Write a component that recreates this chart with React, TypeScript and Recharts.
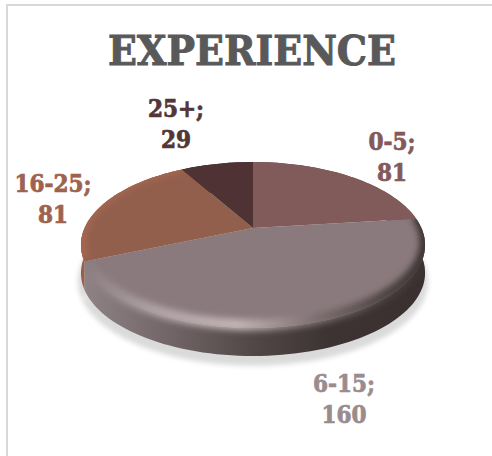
import { PieChart, Pie } from "recharts";

const categories = ["0-5", "6-15", "16-25", "25+"];
const counts = [81, 160, 81, 29];
const faceColors = ["#815B5A", "#8A7A7D", "#925F4D", "#4F3334"];
const wallFills = ["#5e4241", "url(#wallGrad)", "#9a5f4a", "#3a2627"];
const bevelStrokes = ["none", "url(#bevelGrad)", "#a5664f", "none"];
const labelColors = ["#84595A", "#9A8C8E", "#9E624E", "#523638"];

const data = categories.map((name, i) => ({ name, value: counts[i] }));

const WIDTH = 492;
const HEIGHT = 456;
const CX = 253;
const CY = 228;
const RADIUS = 168.4;
// Tilt of the disc: foreshortening plus a small perspective term
const SQUASH = 0.472;
const PERSPECTIVE = -0.205;
const DEPTH = 28;
const SHADOW_DROP = 36;
const FONT = "'DejaVu Serif', serif";
const LABEL_FONT = "'DejaVu Serif Condensed', 'DejaVu Serif', serif";

const LABEL_SPOTS = [
  { x: 392, y: 150 },
  { x: 344, y: 392 },
  { x: 53, y: 192 },
  { x: 176, y: 117 },
];

type SliceProps = {
  cx: number;
  cy: number;
  outerRadius: number;
  startAngle: number;
  endAngle: number;
  index: number;
};

function rimPoint(deg: number, cx: number, cy: number, r: number): [number, number] {
  const rad = (deg * Math.PI) / 180;
  const u = Math.cos(rad);
  const v = -Math.sin(rad);
  const d = 1 + PERSPECTIVE * v;
  return [cx + (r * u) / d, cy + (SQUASH * r * v) / d];
}

function rim(p: SliceProps, grow = 0): [number, number][] {
  const steps = Math.max(2, Math.ceil(Math.abs(p.endAngle - p.startAngle) / 2));
  const pts: [number, number][] = [];
  for (let i = 0; i <= steps; i++) {
    const deg = p.startAngle + ((p.endAngle - p.startAngle) * i) / steps;
    pts.push(rimPoint(deg, p.cx, p.cy, p.outerRadius + grow));
  }
  return pts;
}

const toPath = (pts: [number, number][]) =>
  pts.map(([x, y], i) => `${i ? "L" : "M"}${x.toFixed(2)} ${y.toFixed(2)}`).join(" ");

const wallPath = (pts: [number, number][]) => {
  const lower = pts.map(([x, y]): [number, number] => [x, y + DEPTH]).reverse();
  return `${toPath([...pts, ...lower])} Z`;
};

function ShadowSlice(p: SliceProps) {
  const pts = rim(p, 3).map(([x, y]): [number, number] => [x, y + SHADOW_DROP]);
  return <path d={`${toPath([[p.cx, p.cy + SHADOW_DROP], ...pts])} Z`} fill="#dadada" filter="url(#shadowBlur)" />;
}

function WallSlice(p: SliceProps) {
  return <path d={wallPath(rim(p))} fill={wallFills[p.index]} />;
}

function FaceSlice(p: SliceProps) {
  const pts = rim(p);
  const d = `${toPath([[p.cx, p.cy], ...pts])} Z`;
  const clipId = `face-${p.index}`;
  // The bevel highlight sits just inside the rim and bleeds softly onto the wall
  const bevelLine = pts.map(([x, y]): [number, number] => [x, y - 3]);
  return (
    <g>
      <clipPath id={clipId}>
        <path d={d} />
        <path d={wallPath(pts)} />
      </clipPath>
      <path d={d} fill={faceColors[p.index]} />
      {bevelStrokes[p.index] !== "none" && (
        <g clipPath={`url(#${clipId})`}>
          <path
            d={toPath(bevelLine)}
            fill="none"
            stroke={bevelStrokes[p.index]}
            strokeWidth={11}
            filter="url(#bevelBlur)"
          />
        </g>
      )}
    </g>
  );
}

function SliceLabel(props: { index: number; name: string; value: number }) {
  const spot = LABEL_SPOTS[props.index];
  return (
    <text
      x={spot.x}
      y={spot.y}
      textAnchor="middle"
      fill={labelColors[props.index]}
      stroke={labelColors[props.index]}
      strokeWidth={0.7}
      fontFamily={LABEL_FONT}
      fontWeight="bold"
      fontSize={24}
    >
      <tspan x={spot.x}>{props.name};</tspan>
      <tspan x={spot.x} dy={31}>
        {props.value}
      </tspan>
    </text>
  );
}

const pieProps = {
  data,
  dataKey: "value",
  nameKey: "name",
  cx: CX,
  cy: CY,
  outerRadius: RADIUS,
  startAngle: 90,
  endAngle: -270,
  stroke: "none",
  isAnimationActive: false,
};

export default function App() {
  return (
    <div style={{ position: "absolute", left: 0, top: 0, width: WIDTH, height: HEIGHT, background: "#fff" }}>
      <div style={{ position: "absolute", left: 6, top: 4, width: WIDTH - 6, height: 2, background: "#d9d9d9" }} />
      <div style={{ position: "absolute", left: 6, top: 4, width: 2, height: HEIGHT - 4, background: "#d9d9d9" }} />
      <PieChart width={WIDTH} height={HEIGHT} margin={{ top: 0, right: 0, bottom: 0, left: 0 }} style={{ position: "absolute" }}>
        <defs>
          <linearGradient id="wallGrad" gradientUnits="userSpaceOnUse" x1={85} y1={0} x2={424} y2={0}>
            <stop offset="0" stopColor="#8f8284" />
            <stop offset="0.25" stopColor="#716567" />
            <stop offset="0.5" stopColor="#524747" />
            <stop offset="0.72" stopColor="#3d3333" />
            <stop offset="1" stopColor="#3a3030" />
          </linearGradient>
          <linearGradient id="bevelGrad" gradientUnits="userSpaceOnUse" x1={85} y1={0} x2={424} y2={0}>
            <stop offset="0" stopColor="#8a7d7f" />
            <stop offset="0.2" stopColor="#b0a3a5" />
            <stop offset="0.45" stopColor="#c4b6b8" />
            <stop offset="0.68" stopColor="#7d6f71" />
            <stop offset="0.88" stopColor="#4e4343" />
            <stop offset="1" stopColor="#3c3232" />
          </linearGradient>
          <filter id="bevelBlur" filterUnits="userSpaceOnUse" x={0} y={0} width={WIDTH} height={HEIGHT}>
            <feGaussianBlur stdDeviation={3} />
          </filter>
          <filter id="shadowBlur" filterUnits="userSpaceOnUse" x={0} y={0} width={WIDTH} height={HEIGHT}>
            <feGaussianBlur stdDeviation={2.5} />
          </filter>
        </defs>
        <text
          x={252}
          y={65}
          textAnchor="middle"
          fill="#595959"
          stroke="#595959"
          strokeWidth={1}
          fontFamily={FONT}
          fontWeight="bold"
          fontSize={41}
          textLength={288}
          lengthAdjust="spacingAndGlyphs"
        >
          EXPERIENCE
        </text>
        <Pie {...pieProps} shape={ShadowSlice as any} />
        <Pie {...pieProps} shape={WallSlice as any} />
        <Pie {...pieProps} shape={FaceSlice as any} label={SliceLabel as any} labelLine={false} />
      </PieChart>
    </div>
  );
}
